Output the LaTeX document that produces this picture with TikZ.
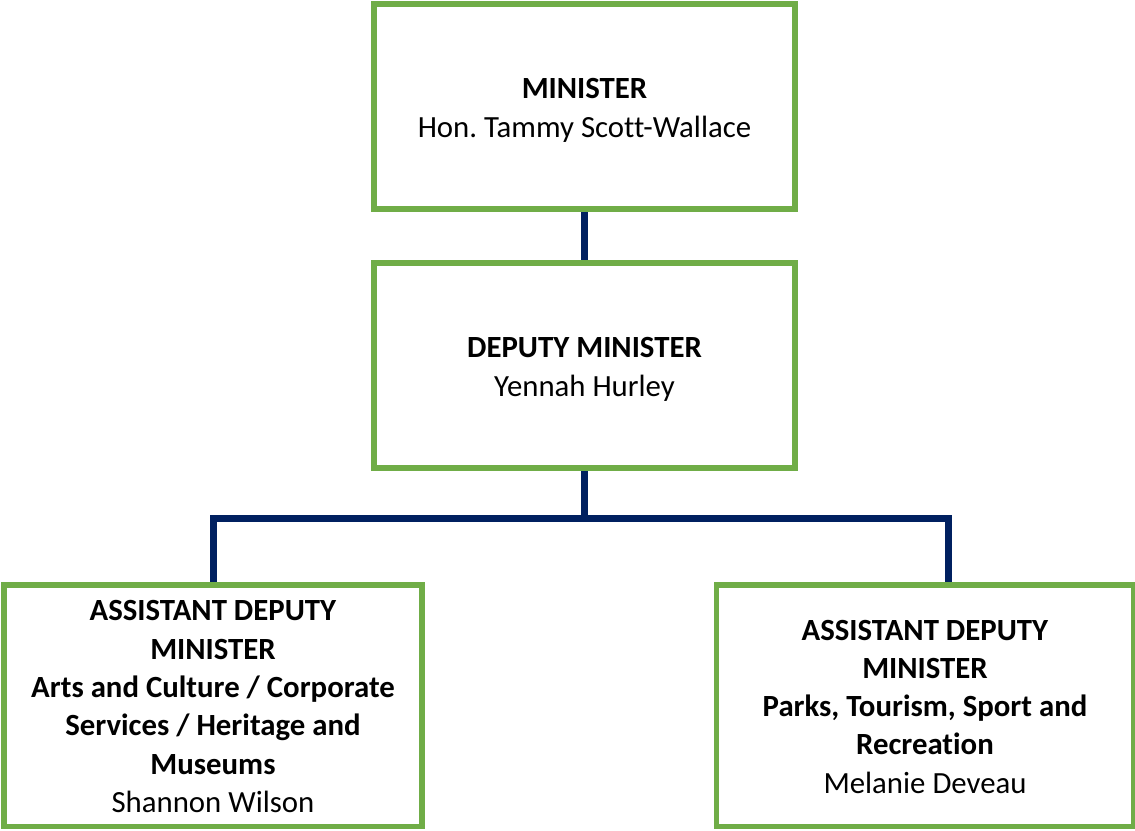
\documentclass[tikz,border=0pt]{standalone}
\usepackage{fontspec}
\setmainfont{Carlito}[Ligatures={NoCommon}]
\frenchspacing
\usetikzlibrary{backgrounds}
\definecolor{boxgreen}{HTML}{70AD47}
\definecolor{navy}{HTML}{002060}
\begin{document}
\begin{tikzpicture}[x=1pt,y=-1pt,
  box/.style={draw=boxgreen,line width=5.5pt,fill=white,rectangle,outer sep=0pt,inner sep=0pt,
    align=center,font=\fontsize{30.8}{38.3}\selectfont,text=black},
  conn/.style={draw=navy,line width=7pt,line join=miter}]
\useasboundingbox (0,0) rectangle (1135,830);
\node[box,minimum width=421pt,minimum height=205pt] (min) at (584.5,106.5)
  {\rule{0pt}{28pt}\textbf{MINISTER}\\Hon. Tammy Scott-Wallace};
\node[box,minimum width=421pt,minimum height=205pt] (dep) at (584.5,365.5)
  {\rule{0pt}{28pt}\textbf{DEPUTY MINISTER}\\Yennah Hurley};
\node[box,minimum width=418pt,minimum height=241.5pt] (adm1) at (213,705.75)
  {\rule{0pt}{22pt}\textbf{ASSISTANT DEPUTY}\\\textbf{MINISTER}\\\textbf{Arts and Culture / Corporate}\\\textbf{Services / Heritage and}\\\textbf{Museums}\\Shannon Wilson};
\node[box,minimum width=417.5pt,minimum height=241.5pt] (adm2) at (925,705.75)
  {\rule{0pt}{22pt}\textbf{ASSISTANT DEPUTY}\\\textbf{MINISTER}\\\textbf{Parks, Tourism, Sport and}\\\textbf{Recreation}\\Melanie Deveau};
\coordinate (busR) at (948.5,518.3);
\begin{scope}[on background layer]
\draw[conn] (min.south) -- (dep.north);
\draw[conn] (dep.south) -- (dep.south |- busR);
\draw[conn] (adm1.north) |- (busR) -- (busR |- adm2.north);
\end{scope}
\end{tikzpicture}
\end{document}
